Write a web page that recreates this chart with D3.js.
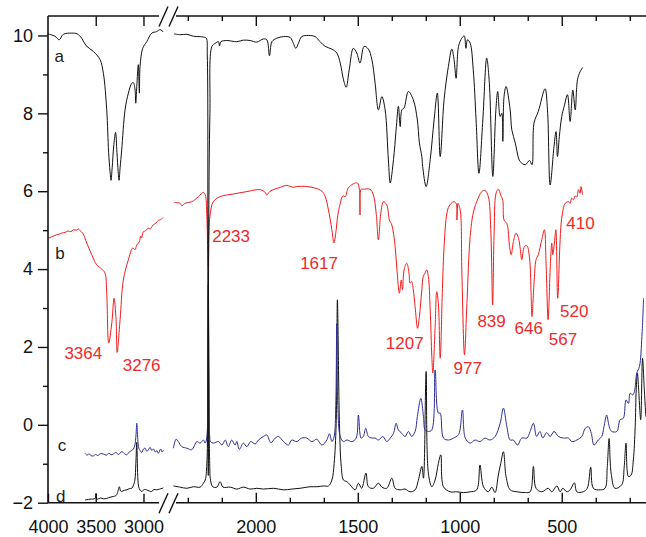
<!DOCTYPE html>
<html>
<head>
<meta charset="utf-8">
<script src="https://cdn.jsdelivr.net/npm/d3@7"></script>
<style>
  body { margin: 0; background: #fff; }
  text { font-family: "Liberation Sans", Arial, sans-serif; }
</style>
</head>
<body>
<svg id="chart" width="646" height="537"></svg>
<script>
// espectros: [numero de onda, intensidad]
const seriesA = [
  [4000,10.04],[3927,9.98],[3882,9.89],[3840,10.03],[3752,10.06],[3693,10.04],[3647,9.93],[3602,9.74],[3525,9.59],
  [3455,9.38],[3420,9.03],[3385,8.09],[3365,7.0],[3350,6.5],[3340,6.28],[3328,6.6],[3310,7.2],[3292,7.51],[3278,7.0],
  [3265,6.5],[3256,6.28],[3245,6.6],[3228,7.06],[3193,8.09],[3158,8.52],[3123,8.77],[3106,8.79],[3088,8.6],[3081,8.26],
  [3070,8.69],[3054,9.25],[3043,8.52],[3036,9.2],[3008,9.67],[2966,9.84],[2913,10.06],[2861,10.1],[2826,10.15],[2792,10.09],
  [2401,10.04],[2371,10.02],[2338,10.03],[2306,9.98],[2273,9.97],[2257,9.96],[2243,9.93],[2238,9.5],[2235,5],[2233,-1.3],
  [2231,5],[2225,8.0],[2215,9.72],[2199,9.8],[2183,9.84],[2178,9.73],[2171,9.84],[2142,9.87],[2093,9.84],[2061,9.88],
  [2028,9.87],[1995,9.83],[1963,9.91],[1946,9.89],[1933,9.48],[1921,9.84],[1897,9.93],[1864,9.97],[1832,9.95],[1816,9.8],
  [1804,9.67],[1791,9.8],[1775,9.97],[1742,10.0],[1709,9.97],[1685,9.84],[1660,9.72],[1627,9.65],[1603,9.55],[1586,9.29],
  [1570,8.86],[1557,8.67],[1542,9.12],[1522,9.67],[1505,9.55],[1489,9.29],[1469,9.72],[1448,9.65],[1431,9.38],[1415,8.77],
  [1399,8.09],[1382,8.43],[1366,8.09],[1350,6.8],[1341,6.21],[1325,6.81],[1312,7.58],[1301,8.18],[1292,7.66],[1284,8.09],
  [1273,8.14],[1252,8.56],[1228,8.35],[1208,7.83],[1198,7.24],[1186,6.89],[1182,6.64],[1165,6.12],[1145,6.81],[1126,7.83],
  [1110,8.52],[1096,6.89],[1077,8.35],[1056,9.2],[1039,9.65],[1028,9.38],[1018,8.9],[1006,9.72],[990,9.93],[978,9.99],
  [970,9.67],[962,9.89],[949,9.8],[934,9.12],[920,7.83],[906,6.46],[887,7.83],[868,9.42],[855,8.77],[838,6.38],[823,8.09],
  [814,8.56],[802,7.92],[794,8.0],[789,7.28],[783,8.43],[773,8.69],[753,8.09],[745,7.58],[728,7.24],[712,6.85],[704,6.76],
  [679,6.68],[658,6.79],[646,6.68],[636,7.75],[615,8.05],[582,8.63],[570,8.09],[557,6.16],[538,7.15],[528,7.53],[521,6.89],
  [512,7.4],[500,7.92],[488,8.18],[472,8.48],[459,7.79],[446,8.6],[434,8.09],[423,8.86],[410,9.07],[397,9.18]
]

const seriesB = [
  [3997,4.79],[3950,4.84],[3909,4.88],[3880,4.9],[3850,4.93],[3822,4.94],[3790,4.98],[3760,4.96],[3735,5.01],[3700,5.0],
  [3680,5.03],[3665,4.99],[3636,4.92],[3594,4.67],[3542,4.37],[3490,4.11],[3437,4.0],[3403,3.9],[3385,3.38],[3364,2.1],
  [3332,2.61],[3308,3.25],[3287,2.7],[3276,1.86],[3245,2.7],[3211,3.72],[3158,4.24],[3112,4.54],[3088,4.5],[3070,4.62],
  [3043,4.7],[3030,4.85],[3020,4.8],[3001,4.96],[2980,4.98],[2965,5.02],[2949,5.05],[2930,5.03],[2910,5.1],[2896,5.14],
  [2870,5.18],[2844,5.25],[2820,5.27],[2792,5.33],
  [2401,5.71],[2371,5.69],[2363,5.63],[2347,5.69],[2314,5.73],[2281,5.86],[2257,5.97],[2248,5.91],[2240,5.35],[2233,3.9],
  [2225,5.35],[2208,5.73],[2175,5.86],[2110,5.93],[2044,5.99],[1979,6.04],[1954,5.97],[1946,5.9],[1930,6.0],[1880,6.1],
  [1849,6.15],[1816,6.1],[1799,6.12],[1750,6.12],[1709,6.08],[1676,6.0],[1660,5.87],[1644,5.52],[1627,5.01],[1617,4.67],
  [1606,5.01],[1600,5.31],[1586,5.69],[1573,5.88],[1562,5.86],[1547,6.08],[1522,6.19],[1502,6.21],[1492,6.05],[1489,5.39],
  [1484,6.05],[1473,6.05],[1440,6.05],[1424,5.91],[1410,5.44],[1399,4.75],[1387,5.44],[1374,5.73],[1358,5.65],[1345,5.26],
  [1333,5.13],[1317,4.58],[1308,3.98],[1296,3.38],[1287,3.72],[1281,3.47],[1273,3.98],[1260,4.15],[1249,3.9],[1244,3.64],
  [1236,3.68],[1228,3.47],[1219,3.04],[1207,2.48],[1198,2.78],[1186,3.47],[1179,3.81],[1170,3.9],[1162,3.98],[1154,3.81],
  [1145,2.95],[1137,1.75],[1132,1.33],[1121,2.5],[1113,3.42],[1105,3.12],[1096,1.71],[1085,3.5],[1077,4.58],[1063,5.44],
  [1052,5.62],[1031,5.73],[1018,5.69],[1014,5.26],[1009,5.69],[998,5.52],[990,3.98],[977,1.80],[965,3.12],[949,4.84],
  [934,5.44],[917,5.73],[892,5.99],[876,6.02],[860,5.86],[848,5.01],[839,3.08],[832,4.84],[822,5.95],[811,6.05],[799,5.9],
  [789,5.76],[783,5.26],[769,5.17],[756,4.58],[748,4.37],[737,4.71],[724,4.92],[712,4.79],[704,4.54],[696,4.24],[683,4.58],
  [671,4.6],[658,4.28],[651,3.47],[646,2.78],[636,3.64],[626,4.24],[615,4.37],[598,4.75],[585,5.01],[577,4.15],[567,2.70],
  [557,3.98],[549,4.67],[544,4.37],[537,4.62],[529,5.01],[520,3.25],[508,4.75],[500,5.31],[483,5.69],[467,5.73],[459,5.69],
  [451,5.82],[443,5.78],[434,5.88],[426,5.85],[418,6.04],[410,5.95],[406,6.12],[398,5.91]
]

const seriesC = [
  [3612,-0.73],[3590,-0.78],[3570,-0.74],[3550,-0.79],[3525,-0.80],[3500,-0.76],[3480,-0.79],[3450,-0.74],[3420,-0.75],
  [3390,-0.78],[3360,-0.73],[3340,-0.77],[3316,-0.75],[3290,-0.71],[3260,-0.76],[3228,-0.69],[3200,-0.74],[3175,-0.77],
  [3150,-0.7],[3123,-0.66],[3105,-0.62],[3090,-0.52],[3078,-0.25],[3070,0.04],[3063,-0.25],[3055,-0.5],[3049,-0.60],
  [3035,-0.66],[3018,-0.71],[3000,-0.62],[2983,-0.60],[2965,-0.68],[2949,-0.64],[2930,-0.58],[2913,-0.66],[2896,-0.62],
  [2875,-0.7],[2860,-0.66],[2844,-0.73],[2820,-0.62],[2805,-0.7],[2792,-0.65],
  [2404,-0.60],[2391,-0.37],[2380,-0.43],[2363,-0.56],[2338,-0.60],[2314,-0.64],[2289,-0.43],[2273,-0.47],[2257,-0.39],
  [2248,-0.47],[2240,-0.3],[2236,1.5],[2233,3.9],[2230,1.5],[2226,-0.3],[2222,-0.43],[2208,-0.47],[2183,-0.43],[2166,-0.52],
  [2150,-0.39],[2135,-0.56],[2118,-0.39],[2102,-0.52],[2093,-0.43],[2081,-0.63],[2061,-0.47],[2044,-0.56],[2025,-0.43],
  [2003,-0.49],[1987,-0.39],[1963,-0.30],[1946,-0.26],[1926,-0.46],[1905,-0.34],[1889,-0.30],[1864,-0.43],[1840,-0.52],
  [1824,-0.39],[1799,-0.43],[1775,-0.34],[1750,-0.34],[1725,-0.43],[1701,-0.37],[1676,-0.52],[1652,-0.39],[1639,-0.23],
  [1627,-0.43],[1616,-0.30],[1608,0.5],[1603,2.6],[1598,0.5],[1586,-0.30],[1570,-0.43],[1553,-0.39],[1529,-0.43],
  [1508,-0.34],[1497,0.25],[1484,-0.34],[1473,-0.30],[1461,-0.09],[1448,-0.30],[1431,-0.34],[1415,-0.34],[1399,-0.39],
  [1377,-0.30],[1358,-0.43],[1341,-0.34],[1325,-0.22],[1312,0.04],[1301,-0.13],[1284,-0.22],[1268,-0.30],[1252,-0.17],
  [1236,-0.30],[1219,-0.17],[1208,0.21],[1191,0.68],[1178,0.21],[1170,-0.13],[1154,-0.17],[1137,-0.13],[1121,1.41],
  [1105,0.30],[1096,0.30],[1080,-0.34],[1056,-0.39],[1031,-0.34],[1006,-0.25],[987,0.38],[973,-0.34],[949,-0.47],
  [925,-0.39],[901,-0.43],[876,-0.34],[852,-0.39],[827,-0.30],[802,0.04],[786,0.43],[769,-0.05],[753,-0.39],[737,-0.39],
  [717,-0.52],[696,-0.34],[671,-0.34],[655,-0.17],[639,0.04],[623,-0.30],[607,-0.17],[593,-0.34],[574,-0.20],[557,-0.30],
  [538,-0.17],[516,-0.30],[492,-0.34],[467,-0.34],[451,-0.43],[426,-0.39],[402,-0.30],[385,-0.09],[369,-0.05],[355,-0.22],
  [342,-0.52],[321,-0.39],[304,-0.30],[293,-0.05],[280,0.25],[267,-0.05],[255,-0.17],[230,-0.17],[214,0.13],[198,0.17],
  [185,0.64],[173,0.55],[165,0.81],[152,0.77],[144,0.85],[132,1.33],[119,1.5],[107,2.27],[99,3.25]
]

const seriesD = [
  [3612,-1.93],[3560,-1.91],[3507,-1.89],[3497,-1.76],[3490,-1.9],[3483,-1.91],[3450,-1.88],[3420,-1.9],[3385,-1.89],
  [3350,-1.86],[3316,-1.84],[3290,-1.82],[3274,-1.76],[3253,-1.59],[3240,-1.7],[3228,-1.71],[3200,-1.68],[3175,-1.67],
  [3150,-1.64],[3123,-1.63],[3105,-1.55],[3090,-1.42],[3080,-1.0],[3070,-0.45],[3064,-1.0],[3058,-1.42],[3050,-1.59],
  [3035,-1.68],[3018,-1.71],[2990,-1.66],[2966,-1.67],[2940,-1.7],[2913,-1.71],[2890,-1.66],[2861,-1.67],[2830,-1.65],
  [2792,-1.62],
  [2404,-1.57],[2371,-1.60],[2338,-1.63],[2306,-1.59],[2273,-1.60],[2257,-1.50],[2248,-1.42],[2240,-1.0],[2236,1.0],
  [2233,3.6],[2230,1.0],[2226,-1.0],[2222,-1.42],[2211,-1.59],[2191,-1.60],[2175,-1.46],[2161,-1.60],[2125,-1.60],
  [2093,-1.65],[2061,-1.60],[2028,-1.65],[1995,-1.63],[1963,-1.65],[1913,-1.63],[1864,-1.67],[1824,-1.65],[1783,-1.63],
  [1734,-1.59],[1701,-1.59],[1668,-1.57],[1644,-1.57],[1627,-1.42],[1616,-0.99],[1606,0.04],[1600,3.21],[1590,0.04],
  [1581,-1.07],[1570,-1.42],[1553,-1.46],[1538,-1.54],[1513,-1.67],[1497,-1.50],[1481,-1.63],[1460,-1.24],[1448,-1.59],
  [1424,-1.63],[1399,-1.50],[1382,-1.60],[1358,-1.63],[1333,-1.37],[1317,-1.63],[1292,-1.67],[1268,-1.65],[1244,-1.72],
  [1219,-1.67],[1203,-1.42],[1186,-1.07],[1178,-1.37],[1165,1.37],[1154,-1.24],[1137,-1.59],[1121,-1.42],[1105,-0.99],
  [1093,-0.77],[1080,-1.59],[1047,-1.72],[1014,-1.72],[982,-1.74],[949,-1.72],[917,-1.67],[901,-1.03],[884,-1.59],
  [860,-1.72],[843,-1.60],[827,-1.74],[811,-1.29],[799,-0.99],[786,-0.69],[773,-1.33],[753,-1.67],[720,-1.72],[679,-1.74],
  [655,-1.72],[639,-1.07],[626,-1.63],[598,-1.72],[566,-1.63],[549,-1.72],[524,-1.57],[508,-1.72],[495,-1.63],[475,-1.72],
  [459,-1.67],[438,-1.49],[426,-1.72],[395,-1.72],[375,-1.63],[358,-1.09],[345,-1.63],[312,-1.67],[288,-1.63],[277,-1.09],
  [268,-0.35],[258,-1.24],[239,-1.63],[206,-1.54],[194,-1.09],[185,-0.47],[173,-1.33],[160,-1.29],[149,-0.90],[140,-0.05],
  [135,0.9],[129,1.33],[123,0.9],[113,0.13],[104,1.71],[96,0.98],[88,0.21]
]

// etiquetas de picos: [texto, numero de onda, intensidad]
const peakLabels = [
  ['3364',3630,1.69],['3276',3019,1.38],['2233',2121,4.69],['1617',1690,4.01],['1207',1270,1.95],['977',961,1.31],
  ['839',844,2.50],['646',662,2.32],['567',494,2.05],['520',439,2.76],['410',408,5.02]
]
const seriesLabels = [['a',3882,9.31],['b',3874,4.25],['c',3853,-0.66],['d',3866,-1.97]]

const yMajor = [-2, 0, 2, 4, 6, 8, 10]
const yMinor = [-1, 1, 3, 5, 7, 9]
const xMajorLeft = [4000, 3500, 3000]
const xMajorRight = [2000, 1500, 1000, 500]
const xMinorRight = [2333.33, 2166.67, 1833.33, 1666.67, 1333.33, 1166.67, 833.33, 666.67, 333.33, 166.67]

const breakAt = 2600
const xLeft = d3.scaleLinear().domain([4000, 2785]).range([48, 164])
const xRight = d3.scaleLinear().domain([2406, 87]).range([173, 646])
const y = d3.scaleLinear().domain([-2, 10.5]).range([502.7, 16])
const xPos = w => w > breakAt ? xLeft(w) : xRight(w)

const svg = d3.select('#chart')
const yTop = y.range()[1], yBottom = y.range()[0]

function drawSeries(data, color) {
  const line = d3.line()
    .x(d => xPos(d[0]))
    .y(d => y(d[1]))
    .curve(d3.curveCatmullRom.alpha(0.5))
  const parts = [data.filter(d => d[0] > breakAt), data.filter(d => d[0] <= breakAt)]
  svg.append('g')
    .selectAll('path')
    .data(parts)
    .join('path')
    .attr('d', line)
    .attr('fill', 'none')
    .attr('stroke', color)
    .attr('stroke-width', 1)
    .attr('stroke-linejoin', 'round')
}

drawSeries(seriesD, '#111')
drawSeries(seriesC, '#2e2e96')
drawSeries(seriesB, '#f21c1c')
drawSeries(seriesA, '#111')

// ejes
function tickAxis(axis, size, yPos, labels) {
  const g = svg.append('g').attr('transform', `translate(0,${yPos})`)
    .call(axis.tickSize(size).tickSizeOuter(0).tickPadding(18))
  g.select('.domain').remove()
  g.selectAll('line').attr('stroke', '#111').attr('stroke-width', 1.4)
  g.selectAll('text').attr('font-size', 18).attr('fill', '#111')
  if (!labels) g.selectAll('text').remove()
  return g
}

// abajo (ticks hacia dentro)
tickAxis(d3.axisBottom(xLeft).tickValues(xMajorLeft).tickFormat(d3.format('d')), -9, yBottom, true)
tickAxis(d3.axisBottom(xRight).tickValues(xMajorRight).tickFormat(d3.format('d')), -10, yBottom, true)
tickAxis(d3.axisBottom(xRight).tickValues(xMinorRight), -5, yBottom, false)
// arriba
tickAxis(d3.axisTop(xLeft).tickValues(xMajorLeft.slice(1)), -10, yTop, false)
tickAxis(d3.axisTop(xRight).tickValues(xMajorRight), -10, yTop, false)
tickAxis(d3.axisTop(xRight).tickValues(xMinorRight), -5, yTop, false)

// eje y
const yAx = svg.append('g').attr('transform', `translate(${xLeft(4000)},0)`)
  .call(d3.axisLeft(y).tickValues(yMajor).tickSize(10).tickPadding(5).tickSizeOuter(0))
yAx.select('.domain').remove()
yAx.selectAll('line').attr('stroke', '#111').attr('stroke-width', 1.4)
yAx.selectAll('text').attr('font-size', 18).attr('fill', '#111')
const yAxMin = svg.append('g').attr('transform', `translate(${xLeft(4000)},0)`)
  .call(d3.axisLeft(y).tickValues(yMinor).tickSize(5).tickFormat('').tickSizeOuter(0))
yAxMin.select('.domain').remove()
yAxMin.selectAll('line').attr('stroke', '#111').attr('stroke-width', 1.4)

// lineas de ejes con corte
const x0 = xLeft(4000), xEnd = xRight.range()[1]
const gapL = xLeft.range()[1] - 5, gapR = xRight.range()[0] + 3
const axisLines = [
  [x0, yTop, x0, yBottom],
  [x0, yTop, gapL, yTop], [gapR, yTop, xEnd, yTop],
  [x0, yBottom, gapL, yBottom], [gapR, yBottom, xEnd, yBottom]
]
svg.append('g').selectAll('line').data(axisLines).join('line')
  .attr('x1', d => d[0]).attr('y1', d => d[1]).attr('x2', d => d[2]).attr('y2', d => d[3])
  .attr('stroke', '#111').attr('stroke-width', 1.6)

const breakMarks = []
;[yTop, yBottom].forEach(yy => {
  ;[gapL, gapL + 10].forEach(xx => breakMarks.push([xx, yy + 10.5, xx + 9, yy - 9.5]))
})
svg.append('g').selectAll('line').data(breakMarks).join('line')
  .attr('x1', d => d[0]).attr('y1', d => d[1]).attr('x2', d => d[2]).attr('y2', d => d[3])
  .attr('stroke', '#111').attr('stroke-width', 1.4)

// textos
svg.append('g').selectAll('text').data(peakLabels).join('text')
  .attr('x', d => xPos(d[1]))
  .attr('y', d => y(d[2]))
  .attr('text-anchor', 'middle')
  .attr('font-size', 17)
  .attr('fill', '#f02a2a')
  .text(d => d[0])

svg.append('g').selectAll('text').data(seriesLabels).join('text')
  .attr('x', d => xPos(d[1]))
  .attr('y', d => y(d[2]))
  .attr('text-anchor', 'middle')
  .attr('font-size', 17)
  .attr('fill', '#222')
  .text(d => d[0])
</script>
</body>
</html>
